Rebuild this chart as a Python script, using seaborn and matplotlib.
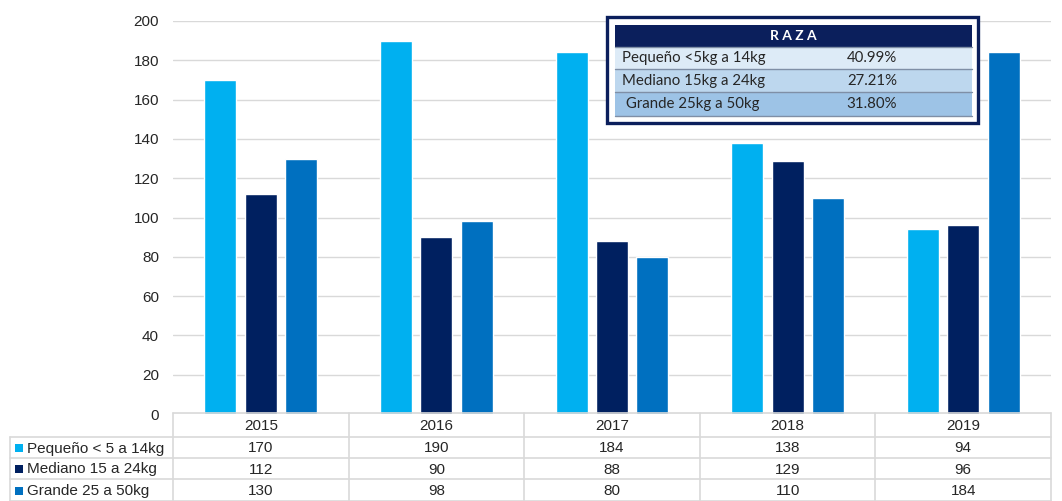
import matplotlib
matplotlib.use("Agg")
import matplotlib.pyplot as plt
import seaborn as sns
import pandas as pd
from matplotlib.patches import Rectangle
from matplotlib.lines import Line2D

years = ["2015", "2016", "2017", "2018", "2019"]
series_names = ["Pequeño < 5 a 14kg", "Mediano 15 a 24kg", "Grande 25 a 50kg"]
pequeno = [170, 190, 184, 138, 94]
mediano = [112, 90, 88, 129, 96]
grande = [130, 98, 80, 110, 184]
colors = ["#00B0F0", "#002060", "#0070C0"]

inset_title = "R A Z A"
inset_labels = ["Pequeño <5kg a 14kg", "Mediano 15kg a 24kg", " Grande 25kg a 50kg"]
inset_values = ["40.99%", "27.21%", "31.80%"]
inset_colors = ["#DDEBF7", "#BDD7EE", "#9DC3E6"]

sns.set_theme(style="white")
plt.rcParams["font.family"] = ["Liberation Sans", "DejaVu Sans"]

rows = []
for name, vals in zip(series_names, [pequeno, mediano, grande]):
    for y, v in zip(years, vals):
        rows.append({"year": y, "serie": name, "value": v})
df = pd.DataFrame(rows)

W, H = 1062, 501
fig = plt.figure(figsize=(W / 100, H / 100), dpi=100)

def fx(px):
    return px / W

def fy(py):
    return 1 - py / H

left, right, top, bottom = 173, 1051, 21, 414
ax = fig.add_axes([fx(left), fy(bottom), fx(right - left), fy(top) - fy(bottom)])
sns.barplot(data=df, x="year", y="value", hue="serie", palette=colors,
            width=0.69, gap=0.21, ax=ax, legend=False, saturation=1)
ax.set_ylim(0, 200)
ax.set_xlim(-0.5, 4.5)
ax.set_yticks(range(0, 201, 20))
ax.yaxis.grid(True, color="#D9D9D9", linewidth=1)
ax.set_axisbelow(True)
for s in ax.spines.values():
    s.set_visible(False)
ax.set_xticks([])
ax.set_xlabel("")
ax.set_ylabel("")
ax.tick_params(axis="y", length=0, labelsize=11, colors="#262626", pad=10)

# data table below
tab = fig.add_axes([0, 0, 1, 1], facecolor="none")
tab.set_xlim(0, W)
tab.set_ylim(H, 0)
tab.axis("off")
row_edges = [413, 437, 458, 479, 501]
col_w = (right - left) / len(years)
lc = "#D9D9D9"
fs = 11
tab.add_line(Line2D([left, right], [row_edges[0]] * 2, color=lc, lw=1.2))
for r in row_edges[1:]:
    tab.add_line(Line2D([10, right], [r, r], color=lc, lw=1.2))
tab.add_line(Line2D([10, 10], [row_edges[1], row_edges[-1]], color=lc, lw=1.2))
for i in range(len(years) + 1):
    x = left + i * col_w
    tab.add_line(Line2D([x, x], [row_edges[0], row_edges[-1]], color=lc, lw=1.2))
for i, y in enumerate(years):
    cx = left + (i + 0.5) * col_w
    tab.text(cx, (row_edges[0] + row_edges[1]) / 2 + 1, y, ha="center", va="center",
             fontsize=fs, color="#262626")
for j, (name, vals) in enumerate(zip(series_names, [pequeno, mediano, grande])):
    cy = (row_edges[j + 1] + row_edges[j + 2]) / 2 + 1
    tab.add_patch(Rectangle((15, cy - 4.5), 8, 8, color=colors[j], lw=0))
    tab.text(27, cy, name, ha="left", va="center", fontsize=fs, color="#262626")
    for i, v in enumerate(vals):
        cx = left + (i + 0.5) * col_w
        tab.text(cx, cy, str(v), ha="center", va="center", fontsize=fs, color="#262626")

# inset RAZA table
navy = "#0B1F5C"
ifont = ["Lato", "DejaVu Sans"]
tab.add_patch(Rectangle((607, 17), 371, 106, facecolor="white", edgecolor=navy, lw=2.4))
tab.add_patch(Rectangle((615, 25), 357, 22, facecolor=navy, lw=0))
tab.text(793, 36, inset_title, ha="center", va="center", fontsize=10, color="white",
         fontweight="bold", family=ifont)
row_tops = [47, 69, 92]
row_h = [22, 23, 24]
for k in range(3):
    tab.add_patch(Rectangle((615, row_tops[k]), 357, row_h[k], facecolor=inset_colors[k],
                            edgecolor="none"))
    tab.add_line(Line2D([615, 972], [row_tops[k], row_tops[k]], color="#7F8FA6", lw=1))
    cy = row_tops[k] + row_h[k] / 2
    tab.text(622, cy, inset_labels[k], ha="left", va="center", fontsize=10.8,
             color="#262626", family=ifont)
    tab.text(872, cy, inset_values[k], ha="center", va="center", fontsize=10.8,
             color="#262626", family=ifont)
tab.add_line(Line2D([615, 972], [116, 116], color="#7F8FA6", lw=1))

fig.savefig("out.png", dpi=100)
